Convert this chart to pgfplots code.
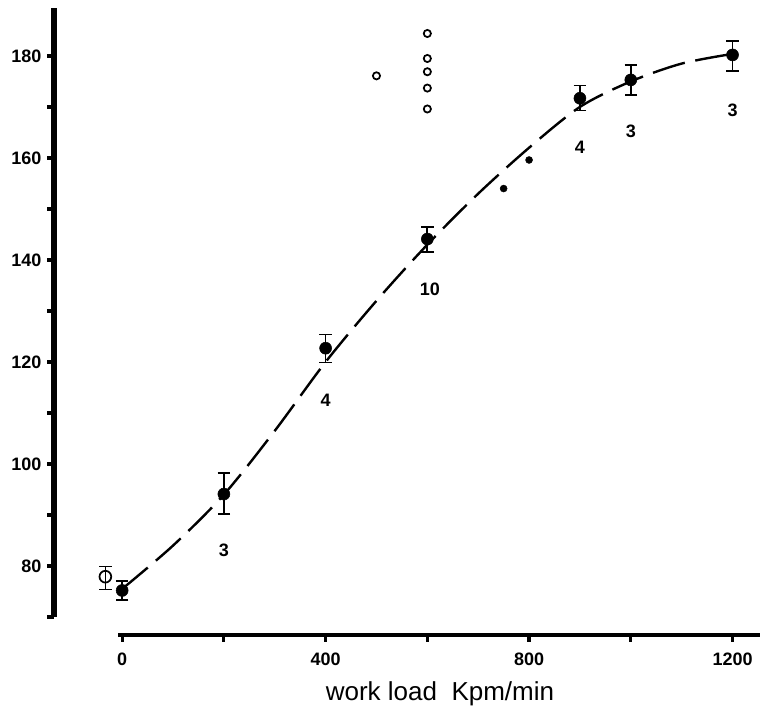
\documentclass[border=0pt]{standalone}
\usepackage{pgfplots}
\pgfplotsset{compat=1.18}
\usepackage{fontspec}
\setmainfont{Liberation Sans}
\begin{document}
\begin{tikzpicture}
\begin{axis}[
 scale only axis, width=529.5pt, height=470.25pt,
 xmin=-134, xmax=1254, ymin=66.47, ymax=189.4,
 axis lines=left, axis line style={draw=none,-},
 clip=false,
 xtick={0,200,...,1200}, xticklabels={0,,400,,800,,1200},
 ytick={70,80,...,180}, yticklabels={,80,,100,,120,,140,,160,,180},
 tick align=outside,
 major tick length=5pt,
 every tick/.style={black, line width=2.4pt},
 ticklabel style={font=\fontsize{13.5}{15}\selectfont\bfseries},
 yticklabel style={xshift=-1pt},
 xticklabel style={yshift=-5pt},
 xlabel={work load\ \ Kpm/min},
 xlabel style={at={(rel axis cs:0.5467,0)}, anchor=north, yshift=-35pt, inner sep=0pt, font=\fontsize{19.5}{22}\selectfont},
]
% axis lines
\draw[line width=4.5pt] (axis cs:-134,70) -- (axis cs:-134,189.4);
\draw[line width=3pt] (axis cs:-8,66.47) -- (axis cs:1254,66.47);

% fitted dashed curve
\addplot[smooth, black, line width=1.8pt, dash pattern=on 25pt off 8pt] coordinates {
 (0,75.5) (100,84) (200,94) (300,106.5) (400,120) (500,132) (600,143)
 (700,153) (800,162) (900,170) (1000,175) (1100,178.5) (1200,180.4)
};

% mean values with error bars
\addplot[only marks, black, mark=*, mark size=4.5pt,
 error bars/.cd, y dir=both, y explicit,
 error bar style={line width=1.3pt},
 error mark options={rotate=90, mark size=4.7pt, line width=1.3pt}]
 table[x=x, y=y, y error plus=ep, y error minus=em] {
 x y ep em
 0 75.2 1.9 1.9
 200 94.1 4.1 3.9
 400 122.7 2.7 2.8
 600 144.1 2.4 2.6
 900 171.7 2.5 2.4
 1000 175.3 2.9 2.9
 1200 180.2 2.8 3.1
};

% open value with error bar
\addplot[only marks, black, mark=o, mark size=4.4pt, mark options={fill=white, line width=1.3pt},
 error bars/.cd, y dir=both, y explicit,
 error bar style={line width=1.3pt},
 error mark options={rotate=90, mark size=4.7pt, line width=1.3pt}]
 table[x=x, y=y, y error plus=ep, y error minus=em] {
 x y ep em
 -33 77.9 2.0 2.5
};

% small filled dots
\addplot[only marks, black, mark=*, mark size=2.6pt] coordinates {(750,154) (800,159.6)};

% small open circles
\addplot[only marks, black, mark=o, mark size=2.7pt, mark options={line width=1.3pt}] coordinates {
 (500,176.1) (600,184.4) (600,179.5) (600,176.9) (600,173.7) (600,169.6)
};

% n labels
\begin{scope}[every node/.style={font=\fontsize{13.5}{15}\selectfont\bfseries}]
\node at (axis cs:200,83.1) {3};
\node at (axis cs:400,112.4) {4};
\node at (axis cs:605,134.3) {10};
\node at (axis cs:900,162) {4};
\node at (axis cs:1000,165.3) {3};
\node at (axis cs:1200,169.4) {3};
\end{scope}
\end{axis}
\pgfresetboundingbox
\path ([xshift=-40.5pt,yshift=-60.75pt]current axis.south west) rectangle ([xshift=0.75pt,yshift=6pt]current axis.north east);
\end{tikzpicture}
\end{document}
